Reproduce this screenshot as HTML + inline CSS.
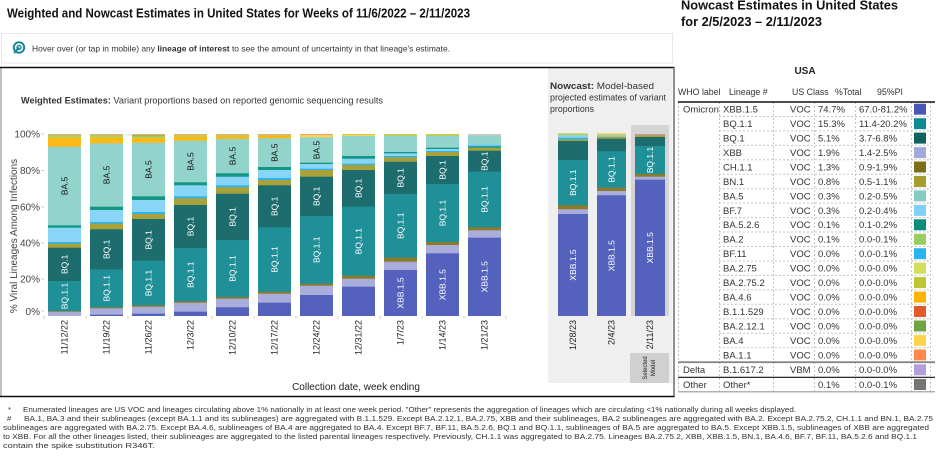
<!DOCTYPE html>
<html><head><meta charset="utf-8">
<style>
html,body{margin:0;padding:0;background:#fff;}
body{width:936px;height:460px;overflow:hidden;}
svg{display:block;font-family:"Liberation Sans",Arial,sans-serif;}
.bl{font-size:8.5px;fill:#fff;text-anchor:middle;}
.bk{font-size:8.5px;fill:#111;text-anchor:middle;}
.dl{font-size:9px;fill:#222;text-anchor:end;}
.yl{font-size:10px;fill:#444;text-anchor:end;}
.tt{font-size:9.5px;fill:#333;}
.th{font-size:8.8px;fill:#333;}
.fn{font-size:7.6px;fill:#333;}
</style></head>
<body>
<svg width="936" height="460" viewBox="0 0 936 460" xmlns="http://www.w3.org/2000/svg">
<!-- Titles -->
<text x="7" y="17.3" font-size="12.5" font-weight="bold" fill="#111" textLength="463" lengthAdjust="spacingAndGlyphs">Weighted and Nowcast Estimates in United States for Weeks of 11/6/2022 – 2/11/2023</text>
<text x="681" y="9.5" font-size="12.5" font-weight="bold" fill="#111" textLength="217" lengthAdjust="spacingAndGlyphs">Nowcast Estimates in United States</text>
<text x="681" y="26" font-size="12.5" font-weight="bold" fill="#111" textLength="141" lengthAdjust="spacingAndGlyphs">for 2/5/2023 – 2/11/2023</text>

<!-- Hover box -->
<rect x="1.5" y="33.5" width="671" height="29.5" fill="#fff" stroke="#e8e8e8"/>
<circle cx="19" cy="47.5" r="5.2" fill="none" stroke="#1a8797" stroke-width="2"/>
<circle cx="19" cy="47.5" r="2" fill="none" stroke="#1a8797" stroke-width="1.4"/>
<path d="M19 47.5 L14 53" stroke="#1a8797" stroke-width="2"/>
<text x="32" y="51.5" font-size="8.5" fill="#333" textLength="418" lengthAdjust="spacingAndGlyphs">Hover over (or tap in mobile) any <tspan font-weight="bold">lineage of interest</tspan> to see the amount of uncertainty in that lineage's estimate.</text>

<!-- Left panel frame -->
<line x1="1" y1="67" x2="1" y2="396" stroke="#aaa" stroke-width="1.5"/>
<rect x="548" y="68" width="124.5" height="315" fill="#efefef"/>
<rect x="631" y="125" width="38" height="191" fill="#d4d4d4"/>
<rect x="630" y="353" width="39" height="30" fill="#d0d0d0"/>
<text transform="translate(647,368) rotate(-90)" font-size="6" fill="#222" text-anchor="middle">Selected</text>
<text transform="translate(655,368) rotate(-90)" font-size="6" fill="#222" text-anchor="middle">Model</text>
<line x1="0" y1="67.5" x2="674.5" y2="67.5" stroke="#111" stroke-width="1.6"/>
<line x1="674" y1="67" x2="674" y2="397" stroke="#555" stroke-width="1.3"/>
<line x1="0" y1="396.5" x2="674.5" y2="396.5" stroke="#111" stroke-width="1.6"/>

<text x="21" y="103.5" font-size="9.5" fill="#333" textLength="362" lengthAdjust="spacingAndGlyphs"><tspan font-weight="bold">Weighted Estimates:</tspan> Variant proportions based on reported genomic sequencing results</text>

<text x="550" y="89" font-size="9.5" fill="#333" textLength="104" lengthAdjust="spacingAndGlyphs"><tspan font-weight="bold">Nowcast:</tspan> Model-based</text>
<text x="550" y="100.5" font-size="9.5" fill="#333" textLength="116" lengthAdjust="spacingAndGlyphs">projected estimates of variant</text>
<text x="550" y="112" font-size="9.5" fill="#333" textLength="44" lengthAdjust="spacingAndGlyphs">proportions</text>

<!-- Y axis -->
<text transform="translate(17,236) rotate(-90)" font-size="10" fill="#444" text-anchor="middle">% Viral Lineages Among Infections</text>
<text class="yl" x="40" y="137.3">100%</text>
<text class="yl" x="40" y="174">80%</text>
<text class="yl" x="40" y="210.5">60%</text>
<text class="yl" x="40" y="246.3">40%</text>
<text class="yl" x="40" y="282.3">20%</text>
<text class="yl" x="40" y="314.8">0%</text>
<g stroke="#ccc" stroke-width="1">
<line x1="41" y1="134" x2="44" y2="134"/><line x1="41" y1="170.5" x2="44" y2="170.5"/><line x1="41" y1="207" x2="44" y2="207"/><line x1="41" y1="243" x2="44" y2="243"/><line x1="41" y1="279" x2="44" y2="279"/><line x1="41" y1="311" x2="44" y2="311"/>
<line x1="44" y1="316" x2="44" y2="319"/><line x1="86" y1="316" x2="86" y2="319"/><line x1="128" y1="316" x2="128" y2="319"/><line x1="170" y1="316" x2="170" y2="319"/><line x1="212" y1="316" x2="212" y2="319"/><line x1="254" y1="316" x2="254" y2="319"/><line x1="296" y1="316" x2="296" y2="319"/><line x1="338" y1="316" x2="338" y2="319"/><line x1="380" y1="316" x2="380" y2="319"/><line x1="422" y1="316" x2="422" y2="319"/><line x1="464" y1="316" x2="464" y2="319"/><line x1="506" y1="316" x2="506" y2="319"/>
</g>

<!-- Bar 1 -->
<g>
<rect x="48" y="134" width="33" height="182" fill="#c5cc45"/>
<rect x="48" y="134" width="33" height="1" fill="#f4a27c"/>
<rect x="48" y="135" width="33" height="1.3" fill="#a5cf6a"/>
<rect x="48" y="138.3" width="33" height="177.7" fill="#ffb814"/>
<rect x="48" y="146.7" width="33" height="169.3" fill="#92d4cb"/>
<rect x="48" y="225.3" width="33" height="90.7" fill="#149683"/>
<rect x="48" y="227.7" width="33" height="88.3" fill="#88d5f7"/>
<rect x="48" y="242" width="33" height="74" fill="#2fb3ea"/>
<rect x="48" y="243.7" width="33" height="72.3" fill="#a9a23a"/>
<rect x="48" y="247.7" width="33" height="68.3" fill="#1d6d6f"/>
<rect x="48" y="281" width="33" height="35" fill="#1f9097"/>
<rect x="48" y="311" width="33" height="5" fill="#8b7b2a"/>
<rect x="48" y="311.7" width="33" height="4.3" fill="#a8addc"/>
</g>
<!-- Bar 2 -->
<g>
<rect x="90" y="134" width="33" height="182" fill="#c5cc45"/>
<rect x="90" y="134" width="33" height="1" fill="#f4a27c"/>
<rect x="90" y="135" width="33" height="1.3" fill="#a5cf6a"/>
<rect x="90" y="138.3" width="33" height="177.7" fill="#ffb814"/>
<rect x="90" y="143.3" width="33" height="172.7" fill="#92d4cb"/>
<rect x="90" y="206.7" width="33" height="109.3" fill="#149683"/>
<rect x="90" y="210" width="33" height="106" fill="#88d5f7"/>
<rect x="90" y="222" width="33" height="94" fill="#2fb3ea"/>
<rect x="90" y="223.7" width="33" height="92.3" fill="#a9a23a"/>
<rect x="90" y="229.3" width="33" height="86.7" fill="#1d6d6f"/>
<rect x="90" y="269.3" width="33" height="46.7" fill="#1f9097"/>
<rect x="90" y="307.3" width="33" height="8.7" fill="#8b7b2a"/>
<rect x="90" y="308.3" width="33" height="7.7" fill="#a8addc"/>
<rect x="90" y="314.7" width="33" height="1.3" fill="#5562bd"/>
</g>
<!-- Bar 3 -->
<g>
<rect x="132" y="134" width="33" height="182" fill="#b9cf5a"/>
<rect x="132" y="134" width="33" height="1" fill="#f4a27c"/>
<rect x="132" y="135" width="33" height="1.5" fill="#8fbf55"/>
<rect x="132" y="138.3" width="33" height="177.7" fill="#ffb814"/>
<rect x="132" y="142.7" width="33" height="173.3" fill="#92d4cb"/>
<rect x="132" y="196.3" width="33" height="119.7" fill="#149683"/>
<rect x="132" y="200" width="33" height="116" fill="#88d5f7"/>
<rect x="132" y="212" width="33" height="104" fill="#2fb3ea"/>
<rect x="132" y="214" width="33" height="102" fill="#a9a23a"/>
<rect x="132" y="219" width="33" height="97" fill="#1d6d6f"/>
<rect x="132" y="260.7" width="33" height="55.3" fill="#1f9097"/>
<rect x="132" y="305.3" width="33" height="10.7" fill="#8b7b2a"/>
<rect x="132" y="306.7" width="33" height="9.3" fill="#a8addc"/>
<rect x="132" y="313.7" width="33" height="2.3" fill="#5562bd"/>
</g>
<!-- Bar 4 -->
<g>
<rect x="174" y="134" width="33" height="182" fill="#c5cc45"/>
<rect x="174" y="134" width="33" height="1" fill="#f4a27c"/>
<rect x="174" y="137.3" width="33" height="178.7" fill="#ffb814"/>
<rect x="174" y="140.7" width="33" height="175.3" fill="#92d4cb"/>
<rect x="174" y="182.3" width="33" height="133.7" fill="#149683"/>
<rect x="174" y="185.3" width="33" height="130.7" fill="#88d5f7"/>
<rect x="174" y="196.3" width="33" height="119.7" fill="#2fb3ea"/>
<rect x="174" y="198.3" width="33" height="117.7" fill="#a9a23a"/>
<rect x="174" y="205" width="33" height="111" fill="#1d6d6f"/>
<rect x="174" y="248" width="33" height="68" fill="#1f9097"/>
<rect x="174" y="301.3" width="33" height="14.7" fill="#8b7b2a"/>
<rect x="174" y="302.7" width="33" height="13.3" fill="#a8addc"/>
<rect x="174" y="311.7" width="33" height="4.3" fill="#5562bd"/>
</g>
<!-- Bar 5 -->
<g>
<rect x="216" y="134" width="33" height="182" fill="#c5cc45"/>
<rect x="216" y="134" width="33" height="1" fill="#f4a27c"/>
<rect x="216" y="136.7" width="33" height="179.3" fill="#ffb814"/>
<rect x="216" y="139" width="33" height="177" fill="#92d4cb"/>
<rect x="216" y="173.3" width="33" height="142.7" fill="#149683"/>
<rect x="216" y="176.7" width="33" height="139.3" fill="#88d5f7"/>
<rect x="216" y="185.3" width="33" height="130.7" fill="#2fb3ea"/>
<rect x="216" y="187.3" width="33" height="128.7" fill="#a9a23a"/>
<rect x="216" y="193.7" width="33" height="122.3" fill="#1d6d6f"/>
<rect x="216" y="240" width="33" height="76" fill="#1f9097"/>
<rect x="216" y="297" width="33" height="19" fill="#8b7b2a"/>
<rect x="216" y="298.7" width="33" height="17.3" fill="#a8addc"/>
<rect x="216" y="307.3" width="33" height="8.7" fill="#5562bd"/>
</g>
<!-- Bar 6 -->
<g>
<rect x="258" y="134" width="33" height="182" fill="#c5cc45"/>
<rect x="258" y="134" width="33" height="1" fill="#f4a27c"/>
<rect x="258" y="136" width="33" height="180" fill="#ffb814"/>
<rect x="258" y="138.3" width="33" height="177.7" fill="#92d4cb"/>
<rect x="258" y="167" width="33" height="149" fill="#149683"/>
<rect x="258" y="170" width="33" height="146" fill="#88d5f7"/>
<rect x="258" y="178" width="33" height="138" fill="#2fb3ea"/>
<rect x="258" y="180" width="33" height="136" fill="#a9a23a"/>
<rect x="258" y="185.3" width="33" height="130.7" fill="#1d6d6f"/>
<rect x="258" y="227.3" width="33" height="88.7" fill="#1f9097"/>
<rect x="258" y="291.7" width="33" height="24.3" fill="#8b7b2a"/>
<rect x="258" y="293.7" width="33" height="22.3" fill="#a8addc"/>
<rect x="258" y="302.7" width="33" height="13.3" fill="#5562bd"/>
</g>
<!-- Bar 7 -->
<g>
<rect x="300" y="134" width="33" height="182" fill="#c5cc45"/>
<rect x="300" y="134" width="33" height="1" fill="#f4a27c"/>
<rect x="300" y="135.3" width="33" height="180.7" fill="#ffd451"/>
<rect x="300" y="137.3" width="33" height="178.7" fill="#92d4cb"/>
<rect x="300" y="162.7" width="33" height="153.3" fill="#149683"/>
<rect x="300" y="164" width="33" height="152" fill="#88d5f7"/>
<rect x="300" y="168.7" width="33" height="147.3" fill="#2fb3ea"/>
<rect x="300" y="170" width="33" height="146" fill="#a9a23a"/>
<rect x="300" y="176.7" width="33" height="139.3" fill="#1d6d6f"/>
<rect x="300" y="216" width="33" height="100" fill="#1f9097"/>
<rect x="300" y="283.7" width="33" height="32.3" fill="#8b7b2a"/>
<rect x="300" y="285.7" width="33" height="30.3" fill="#a8addc"/>
<rect x="300" y="295" width="33" height="21" fill="#5562bd"/>
</g>
<!-- Bar 8 -->
<g>
<rect x="342" y="134" width="33" height="182" fill="#c5cc45"/>
<rect x="342" y="135" width="33" height="181" fill="#ffd451"/>
<rect x="342" y="136" width="33" height="180" fill="#92d4cb"/>
<rect x="342" y="156" width="33" height="160" fill="#149683"/>
<rect x="342" y="158.7" width="33" height="157.3" fill="#88d5f7"/>
<rect x="342" y="163.7" width="33" height="152.3" fill="#2fb3ea"/>
<rect x="342" y="165" width="33" height="151" fill="#a9a23a"/>
<rect x="342" y="170" width="33" height="146" fill="#1d6d6f"/>
<rect x="342" y="206.7" width="33" height="109.3" fill="#1f9097"/>
<rect x="342" y="275.7" width="33" height="40.3" fill="#8b7b2a"/>
<rect x="342" y="278.7" width="33" height="37.3" fill="#a8addc"/>
<rect x="342" y="286.7" width="33" height="29.3" fill="#5562bd"/>
</g>
<!-- Bar 9 -->
<g>
<rect x="384" y="134" width="33" height="182" fill="#c5cc45"/>
<rect x="384" y="135.7" width="33" height="180.3" fill="#92d4cb"/>
<rect x="384" y="152" width="33" height="164" fill="#149683"/>
<rect x="384" y="153.3" width="33" height="162.7" fill="#88d5f7"/>
<rect x="384" y="156" width="33" height="160" fill="#2fb3ea"/>
<rect x="384" y="157.3" width="33" height="158.7" fill="#a9a23a"/>
<rect x="384" y="161.7" width="33" height="154.3" fill="#1d6d6f"/>
<rect x="384" y="194" width="33" height="122" fill="#1f9097"/>
<rect x="384" y="257.7" width="33" height="58.3" fill="#8b7b2a"/>
<rect x="384" y="261.7" width="33" height="54.3" fill="#a8addc"/>
<rect x="384" y="270" width="33" height="46" fill="#5562bd"/>
</g>
<!-- Bar 10 -->
<g>
<rect x="426" y="134" width="33" height="182" fill="#c5cc45"/>
<rect x="426" y="135.7" width="33" height="180.3" fill="#92d4cb"/>
<rect x="426" y="147.7" width="33" height="168.3" fill="#149683"/>
<rect x="426" y="149" width="33" height="167" fill="#88d5f7"/>
<rect x="426" y="151" width="33" height="165" fill="#2fb3ea"/>
<rect x="426" y="152" width="33" height="164" fill="#a9a23a"/>
<rect x="426" y="156" width="33" height="160" fill="#1d6d6f"/>
<rect x="426" y="184" width="33" height="132" fill="#1f9097"/>
<rect x="426" y="242" width="33" height="74" fill="#8b7b2a"/>
<rect x="426" y="245" width="33" height="71" fill="#a8addc"/>
<rect x="426" y="253.3" width="33" height="62.7" fill="#5562bd"/>
</g>
<!-- Bar 11 -->
<g>
<rect x="468" y="134" width="33" height="182" fill="#c8c8c0"/>
<rect x="468" y="135.7" width="33" height="180.3" fill="#92d4cb"/>
<rect x="468" y="144.3" width="33" height="171.7" fill="#88d5f7"/>
<rect x="468" y="145.5" width="33" height="170.5" fill="#2fb3ea"/>
<rect x="468" y="146.5" width="33" height="169.5" fill="#149683"/>
<rect x="468" y="147.7" width="33" height="168.3" fill="#a9a23a"/>
<rect x="468" y="150.7" width="33" height="165.3" fill="#1d6d6f"/>
<rect x="468" y="171.7" width="33" height="144.3" fill="#1f9097"/>
<rect x="468" y="227.3" width="33" height="88.7" fill="#8b7b2a"/>
<rect x="468" y="230.3" width="33" height="85.7" fill="#a8addc"/>
<rect x="468" y="237.7" width="33" height="78.3" fill="#5562bd"/>
</g>

<!-- Nowcast bars -->
<g>
<rect x="558" y="133.3" width="30" height="182.7" fill="#c5cc45"/>
<rect x="558" y="134.7" width="30" height="181.3" fill="#92d4cb"/>
<rect x="558" y="136.3" width="30" height="179.7" fill="#88d5f7"/>
<rect x="558" y="137.7" width="30" height="178.3" fill="#2fb3ea"/>
<rect x="558" y="139.3" width="30" height="176.7" fill="#a9a23a"/>
<rect x="558" y="141" width="30" height="175" fill="#1d6d6f"/>
<rect x="558" y="160" width="30" height="156" fill="#1f9097"/>
<rect x="558" y="205.3" width="30" height="110.7" fill="#8b7b2a"/>
<rect x="558" y="209.3" width="30" height="106.7" fill="#a8addc"/>
<rect x="558" y="214" width="30" height="102" fill="#5562bd"/>
</g>
<g>
<rect x="597" y="133.3" width="29" height="182.7" fill="#ffd451"/>
<rect x="597" y="134.3" width="29" height="181.7" fill="#c5cc45"/>
<rect x="597" y="135.3" width="29" height="180.7" fill="#88d5f7"/>
<rect x="597" y="136.7" width="29" height="179.3" fill="#a9a23a"/>
<rect x="597" y="138.7" width="29" height="177.3" fill="#1d6d6f"/>
<rect x="597" y="151.3" width="29" height="164.7" fill="#1f9097"/>
<rect x="597" y="187.7" width="29" height="128.3" fill="#8b7b2a"/>
<rect x="597" y="191" width="29" height="125" fill="#a8addc"/>
<rect x="597" y="195.3" width="29" height="120.7" fill="#5562bd"/>
</g>
<g>
<rect x="635" y="134" width="30" height="182" fill="#c39a9a"/>
<rect x="635" y="135.3" width="30" height="180.7" fill="#a9a23a"/>
<rect x="635" y="137" width="30" height="179" fill="#1d6d6f"/>
<rect x="635" y="146" width="30" height="170" fill="#1f9097"/>
<rect x="635" y="174" width="30" height="142" fill="#8b7b2a"/>
<rect x="635" y="176.7" width="30" height="139.3" fill="#a8addc"/>
<rect x="635" y="179.7" width="30" height="136.3" fill="#5562bd"/>
</g>

<!-- Bar labels -->
<g>
<text class="bk" transform="translate(67.5,186) rotate(-90)">BA.5</text>
<text class="bl" transform="translate(67.5,264.3) rotate(-90)">BQ.1</text>
<text class="bl" transform="translate(67.5,296) rotate(-90)">BQ.1.1</text>
<text class="bk" transform="translate(109.5,175) rotate(-90)">BA.5</text>
<text class="bl" transform="translate(109.5,249.3) rotate(-90)">BQ.1</text>
<text class="bl" transform="translate(109.5,288.3) rotate(-90)">BQ.1.1</text>
<text class="bk" transform="translate(151.5,169.5) rotate(-90)">BA.5</text>
<text class="bl" transform="translate(151.5,239.8) rotate(-90)">BQ.1</text>
<text class="bl" transform="translate(151.5,283) rotate(-90)">BQ.1.1</text>
<text class="bk" transform="translate(193.5,161.5) rotate(-90)">BA.5</text>
<text class="bl" transform="translate(193.5,226.5) rotate(-90)">BQ.1</text>
<text class="bl" transform="translate(193.5,274.7) rotate(-90)">BQ.1.1</text>
<text class="bk" transform="translate(235.5,156) rotate(-90)">BA.5</text>
<text class="bl" transform="translate(235.5,216.8) rotate(-90)">BQ.1</text>
<text class="bl" transform="translate(235.5,268.5) rotate(-90)">BQ.1.1</text>
<text class="bk" transform="translate(277.5,152.7) rotate(-90)">BA.5</text>
<text class="bl" transform="translate(277.5,206.3) rotate(-90)">BQ.1</text>
<text class="bl" transform="translate(277.5,259.5) rotate(-90)">BQ.1.1</text>
<text class="bk" transform="translate(319.5,150) rotate(-90)">BA.5</text>
<text class="bl" transform="translate(319.5,196.3) rotate(-90)">BQ.1</text>
<text class="bl" transform="translate(319.5,249.8) rotate(-90)">BQ.1.1</text>
<text class="bl" transform="translate(361.5,188.3) rotate(-90)">BQ.1</text>
<text class="bl" transform="translate(361.5,241.2) rotate(-90)">BQ.1.1</text>
<text class="bl" transform="translate(403.5,177.8) rotate(-90)">BQ.1</text>
<text class="bl" transform="translate(403.5,225.8) rotate(-90)">BQ.1.1</text>
<text class="bl" transform="translate(403.5,293) rotate(-90)">XBB.1.5</text>
<text class="bl" transform="translate(445.5,170) rotate(-90)">BQ.1</text>
<text class="bl" transform="translate(445.5,213) rotate(-90)">BQ.1.1</text>
<text class="bl" transform="translate(445.5,284.7) rotate(-90)">XBB.1.5</text>
<text class="bl" transform="translate(487.5,161.2) rotate(-90)">BQ.1</text>
<text class="bl" transform="translate(487.5,199.5) rotate(-90)">BQ.1.1</text>
<text class="bl" transform="translate(487.5,276.8) rotate(-90)">XBB.1.5</text>
<text class="bl" transform="translate(576,182.7) rotate(-90)">BQ.1.1</text>
<text class="bl" transform="translate(576,265) rotate(-90)">XBB.1.5</text>
<text class="bl" transform="translate(614.5,169.5) rotate(-90)">BQ.1.1</text>
<text class="bl" transform="translate(614.5,255.7) rotate(-90)">XBB.1.5</text>
<text class="bl" transform="translate(653,160) rotate(-90)">BQ.1.1</text>
<text class="bl" transform="translate(653,247.8) rotate(-90)">XBB.1.5</text>
</g>

<!-- Date labels -->
<g>
<text class="dl" transform="translate(67.7,320) rotate(-90)">11/12/22</text>
<text class="dl" transform="translate(109.7,320) rotate(-90)">11/19/22</text>
<text class="dl" transform="translate(151.7,320) rotate(-90)">11/26/22</text>
<text class="dl" transform="translate(193.7,320) rotate(-90)">12/3/22</text>
<text class="dl" transform="translate(235.7,320) rotate(-90)">12/10/22</text>
<text class="dl" transform="translate(277.7,320) rotate(-90)">12/17/22</text>
<text class="dl" transform="translate(319.7,320) rotate(-90)">12/24/22</text>
<text class="dl" transform="translate(361.7,320) rotate(-90)">12/31/22</text>
<text class="dl" transform="translate(403.7,320) rotate(-90)">1/7/23</text>
<text class="dl" transform="translate(445.7,320) rotate(-90)">1/14/23</text>
<text class="dl" transform="translate(487.7,320) rotate(-90)">1/21/23</text>
<text class="dl" transform="translate(576.2,320) rotate(-90)">1/28/23</text>
<text class="dl" transform="translate(614.7,320) rotate(-90)">2/4/23</text>
<text class="dl" transform="translate(653.2,320) rotate(-90)">2/11/23</text>
</g>
<text x="356" y="390" font-size="10" fill="#222" text-anchor="middle">Collection date, week ending</text>

<!-- Table -->
<text x="805" y="74" font-size="10" font-weight="bold" fill="#222" text-anchor="middle">USA</text>
<text class="th" x="678" y="95">WHO label</text>
<text class="th" x="729" y="95">Lineage #</text>
<text class="th" x="792" y="95">US Class</text>
<text class="th" x="835" y="95">%Total</text>
<text class="th" x="877" y="95">95%PI</text>

<g stroke="#c4c4c4" stroke-width="1" stroke-dasharray="2,2">
<line x1="678.5" y1="102" x2="678.5" y2="392"/>
<line x1="719.5" y1="102" x2="719.5" y2="392"/>
<line x1="773.5" y1="102" x2="773.5" y2="392"/>
<line x1="814.5" y1="102" x2="814.5" y2="392"/>
<line x1="855.5" y1="102" x2="855.5" y2="392"/>
<line x1="911.5" y1="102" x2="911.5" y2="392"/>
<line x1="930.5" y1="102" x2="930.5" y2="392"/>
<line x1="719" y1="116.45" x2="931" y2="116.45"/>
<line x1="719" y1="130.9" x2="931" y2="130.9"/>
<line x1="719" y1="145.35" x2="931" y2="145.35"/>
<line x1="719" y1="159.8" x2="931" y2="159.8"/>
<line x1="719" y1="174.25" x2="931" y2="174.25"/>
<line x1="719" y1="188.7" x2="931" y2="188.7"/>
<line x1="719" y1="203.15" x2="931" y2="203.15"/>
<line x1="719" y1="217.6" x2="931" y2="217.6"/>
<line x1="719" y1="232.05" x2="931" y2="232.05"/>
<line x1="719" y1="246.5" x2="931" y2="246.5"/>
<line x1="719" y1="260.95" x2="931" y2="260.95"/>
<line x1="719" y1="275.4" x2="931" y2="275.4"/>
<line x1="719" y1="289.85" x2="931" y2="289.85"/>
<line x1="719" y1="304.3" x2="931" y2="304.3"/>
<line x1="719" y1="318.75" x2="931" y2="318.75"/>
<line x1="719" y1="333.2" x2="931" y2="333.2"/>
<line x1="719" y1="347.65" x2="931" y2="347.65"/>
</g>
<line x1="678" y1="102" x2="935" y2="102" stroke="#111" stroke-width="1.5"/>
<line x1="678" y1="362.2" x2="935" y2="362.2" stroke="#888" stroke-width="1.8"/>
<line x1="678" y1="377.3" x2="935" y2="377.3" stroke="#111" stroke-width="1.2"/>
<line x1="678" y1="391.8" x2="935" y2="391.8" stroke="#999" stroke-width="1.2"/>

<g class="tt">
<text x="683" y="112.6">Omicron</text>
<text x="723" y="112.6">XBB.1.5</text><text x="790" y="112.6">VOC</text><text x="818" y="112.6">74.7%</text><text x="859" y="112.6">67.0-81.2%</text>
<text x="723" y="127.1">BQ.1.1</text><text x="790" y="127.1">VOC</text><text x="818" y="127.1">15.3%</text><text x="859" y="127.1">11.4-20.2%</text>
<text x="723" y="141.5">BQ.1</text><text x="790" y="141.5">VOC</text><text x="818" y="141.5">5.1%</text><text x="859" y="141.5">3.7-6.8%</text>
<text x="723" y="156">XBB</text><text x="790" y="156">VOC</text><text x="818" y="156">1.9%</text><text x="859" y="156">1.4-2.5%</text>
<text x="723" y="170.4">CH.1.1</text><text x="790" y="170.4">VOC</text><text x="818" y="170.4">1.3%</text><text x="859" y="170.4">0.9-1.9%</text>
<text x="723" y="184.9">BN.1</text><text x="790" y="184.9">VOC</text><text x="818" y="184.9">0.8%</text><text x="859" y="184.9">0.5-1.1%</text>
<text x="723" y="199.3">BA.5</text><text x="790" y="199.3">VOC</text><text x="818" y="199.3">0.3%</text><text x="859" y="199.3">0.2-0.5%</text>
<text x="723" y="213.8">BF.7</text><text x="790" y="213.8">VOC</text><text x="818" y="213.8">0.3%</text><text x="859" y="213.8">0.2-0.4%</text>
<text x="723" y="228.2">BA.5.2.6</text><text x="790" y="228.2">VOC</text><text x="818" y="228.2">0.1%</text><text x="859" y="228.2">0.1-0.2%</text>
<text x="723" y="242.7">BA.2</text><text x="790" y="242.7">VOC</text><text x="818" y="242.7">0.1%</text><text x="859" y="242.7">0.0-0.1%</text>
<text x="723" y="257.1">BF.11</text><text x="790" y="257.1">VOC</text><text x="818" y="257.1">0.0%</text><text x="859" y="257.1">0.0-0.1%</text>
<text x="723" y="271.6">BA.2.75</text><text x="790" y="271.6">VOC</text><text x="818" y="271.6">0.0%</text><text x="859" y="271.6">0.0-0.0%</text>
<text x="723" y="286">BA.2.75.2</text><text x="790" y="286">VOC</text><text x="818" y="286">0.0%</text><text x="859" y="286">0.0-0.0%</text>
<text x="723" y="300.5">BA.4.6</text><text x="790" y="300.5">VOC</text><text x="818" y="300.5">0.0%</text><text x="859" y="300.5">0.0-0.0%</text>
<text x="723" y="314.9">B.1.1.529</text><text x="790" y="314.9">VOC</text><text x="818" y="314.9">0.0%</text><text x="859" y="314.9">0.0-0.0%</text>
<text x="723" y="329.4">BA.2.12.1</text><text x="790" y="329.4">VOC</text><text x="818" y="329.4">0.0%</text><text x="859" y="329.4">0.0-0.0%</text>
<text x="723" y="343.8">BA.4</text><text x="790" y="343.8">VOC</text><text x="818" y="343.8">0.0%</text><text x="859" y="343.8">0.0-0.0%</text>
<text x="723" y="358.3">BA.1.1</text><text x="790" y="358.3">VOC</text><text x="818" y="358.3">0.0%</text><text x="859" y="358.3">0.0-0.0%</text>
<text x="683" y="373.2">Delta</text>
<text x="723" y="373.2">B.1.617.2</text><text x="790" y="373.2">VBM</text><text x="818" y="373.2">0.0%</text><text x="859" y="373.2">0.0-0.0%</text>
<text x="683" y="387.9">Other</text>
<text x="723" y="387.9">Other*</text><text x="818" y="387.9">0.1%</text><text x="859" y="387.9">0.0-0.1%</text>
</g>

<g>
<rect x="914" y="103.7" width="12" height="11" fill="#4a55b8"/>
<rect x="914" y="118.2" width="12" height="11" fill="#0f8a92"/>
<rect x="914" y="132.6" width="12" height="11" fill="#11625f"/>
<rect x="914" y="147.1" width="12" height="11" fill="#a3a8dc"/>
<rect x="914" y="161.5" width="12" height="11" fill="#7d6e1a"/>
<rect x="914" y="176" width="12" height="11" fill="#a59e2e"/>
<rect x="914" y="190.4" width="12" height="11" fill="#83cdc2"/>
<rect x="914" y="204.9" width="12" height="11" fill="#7fd1f7"/>
<rect x="914" y="219.3" width="12" height="11" fill="#0b8c7c"/>
<rect x="914" y="233.8" width="12" height="11" fill="#9bcb63"/>
<rect x="914" y="248.2" width="12" height="11" fill="#2ab3ef"/>
<rect x="914" y="262.7" width="12" height="11" fill="#d2df5c"/>
<rect x="914" y="277.1" width="12" height="11" fill="#bdc635"/>
<rect x="914" y="291.6" width="12" height="11" fill="#ffb300"/>
<rect x="914" y="306" width="12" height="11" fill="#e05a2b"/>
<rect x="914" y="320.5" width="12" height="11" fill="#6fa443"/>
<rect x="914" y="334.9" width="12" height="11" fill="#ffd54f"/>
<rect x="914" y="349.4" width="12" height="11" fill="#ff8a4c"/>
<rect x="914" y="364.3" width="12" height="11" fill="#b39ddb"/>
<rect x="914" y="379" width="12" height="11" fill="#757575"/>
</g>

<!-- Footnotes -->
<g class="fn">
<text x="8" y="412">*</text>
<text x="23" y="412" textLength="773" lengthAdjust="spacingAndGlyphs">Enumerated lineages are US VOC and lineages circulating above 1% nationally in at least one week period. "Other" represents the aggregation of lineages which are circulating &lt;1% nationally during all weeks displayed.</text>
<text x="7" y="421">#</text>
<text x="24" y="421" textLength="909" lengthAdjust="spacingAndGlyphs">BA.1, BA.3 and their sublineages (except BA.1.1 and its sublineages) are aggregated with B.1.1.529. Except BA.2.12.1, BA.2.75, XBB and their sublineages, BA.2 sublineages are aggregated with BA.2. Except BA.2.75.2, CH.1.1 and BN.1, BA.2.75</text>
<text x="3" y="430" textLength="926" lengthAdjust="spacingAndGlyphs">sublineages are aggregated with BA.2.75. Except BA.4.6, sublineages of BA.4 are aggregated to BA.4. Except BF.7, BF.11, BA.5.2.6, BQ.1 and BQ.1.1, sublineages of BA.5 are aggregated to BA.5. Except XBB.1.5, sublineages of XBB are aggregated</text>
<text x="3" y="439" textLength="914" lengthAdjust="spacingAndGlyphs">to XBB. For all the other lineages listed, their sublineages are aggregated to the listed parental lineages respectively. Previously, CH.1.1 was aggregated to BA.2.75. Lineages BA.2.75.2, XBB, XBB.1.5, BN.1, BA.4.6, BF.7, BF.11, BA.5.2.6 and BQ.1.1</text>
<text x="3" y="448" textLength="152" lengthAdjust="spacingAndGlyphs">contain the spike substitution R346T.</text>
</g>
</svg>
</body></html>
